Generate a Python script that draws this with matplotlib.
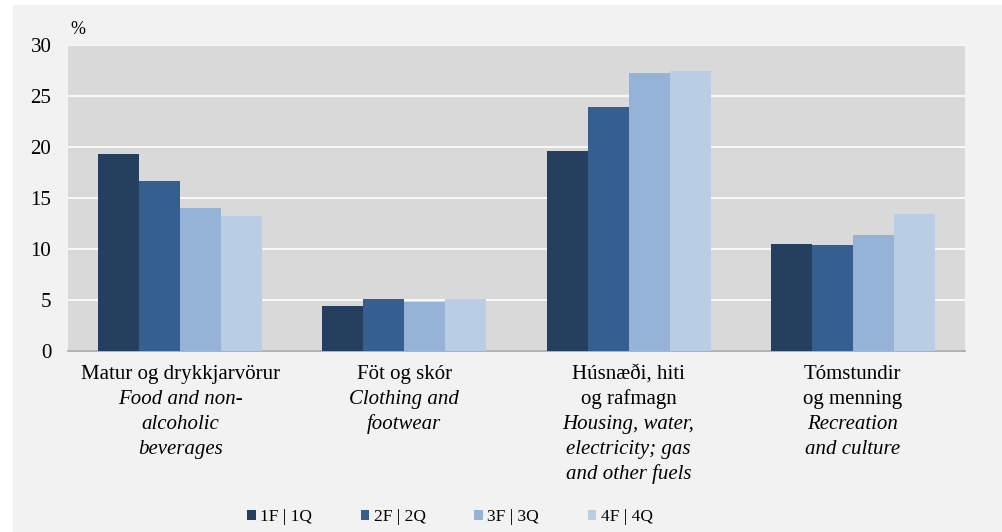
import matplotlib.pyplot as plt
import numpy as np
from matplotlib.patches import Rectangle

# Gögn / data
flokkar_is = [['Matur og drykkjarvörur'], ['Föt og skór'],
              ['Húsnæði, hiti', 'og rafmagn'], ['Tómstundir', 'og menning']]
flokkar_en = [['Food and non-', 'alcoholic', 'beverages'],
              ['Clothing and', 'footwear'],
              ['Housing, water,', 'electricity; gas', 'and other fuels'],
              ['Recreation', 'and culture']]
q1 = [19.3, 4.4, 19.6, 10.5]
q2 = [16.7, 5.1, 23.9, 10.4]
q3 = [14.0, 4.8, 27.3, 11.4]
q4 = [13.2, 5.1, 27.5, 13.4]
series = [q1, q2, q3, q4]
legend_labels = ['1F | 1Q', '2F | 2Q', '3F | 3Q', '4F | 4Q']
colors = ['#253f5f', '#355f91', '#95b3d7', '#b9cde5']

plt.rcParams['font.family'] = ['Liberation Serif', 'DejaVu Serif']

fig = plt.figure(figsize=(10.02, 5.32), dpi=100, facecolor='white')
fig.patches.append(Rectangle((13 / 1002, 0), 1, 527 / 532, transform=fig.transFigure,
                             facecolor='#f2f2f2', edgecolor='none', zorder=-10))
ax = fig.add_axes([68 / 1002, 1 - 351 / 532, 897 / 1002, 306 / 532])
ax.set_facecolor('#d9d9d9')

x = np.arange(len(q1))
w = 0.183
for i, vals in enumerate(series):
    ax.bar(x + (i - 1.5) * w, vals, w, color=colors[i], label=legend_labels[i], zorder=3)

ax.set_xlim(-0.5, 3.5)
ax.set_ylim(0, 30)
ax.set_yticks(range(0, 31, 5))
ax.yaxis.grid(True, color='white', linewidth=1.2, zorder=1)
ax.set_axisbelow(True)
for s in ['top', 'right', 'left']:
    ax.spines[s].set_visible(False)
ax.spines['bottom'].set_color('#a6a6a6')
ax.spines['bottom'].set_linewidth(1.2)
ax.tick_params(axis='y', length=0, labelsize=15, pad=12)
ax.tick_params(axis='x', length=0, labelbottom=False)

# flokkaheiti
for i in range(len(x)):
    lines = [(t, 'normal') for t in flokkar_is[i]] + [(t, 'italic') for t in flokkar_en[i]]
    for j, (t, st) in enumerate(lines):
        ax.annotate(t, xy=(x[i], 0), xycoords=('data', 'axes fraction'),
                    xytext=(0, -17 - 17.9 * j), textcoords='offset points',
                    ha='center', va='center', fontsize=15, style=st)

fig.text(70 / 1002, 1 - 30 / 532, '%', fontsize=13, va='center')

fig.legend(loc='center', bbox_to_anchor=(450 / 1002, 1 - 517 / 532), ncol=4, frameon=False,
           fontsize=12.5, handlelength=0.5, handleheight=0.5, handletextpad=0.25,
           columnspacing=2.8)

fig.savefig('out.png', dpi=100, facecolor=fig.get_facecolor())
